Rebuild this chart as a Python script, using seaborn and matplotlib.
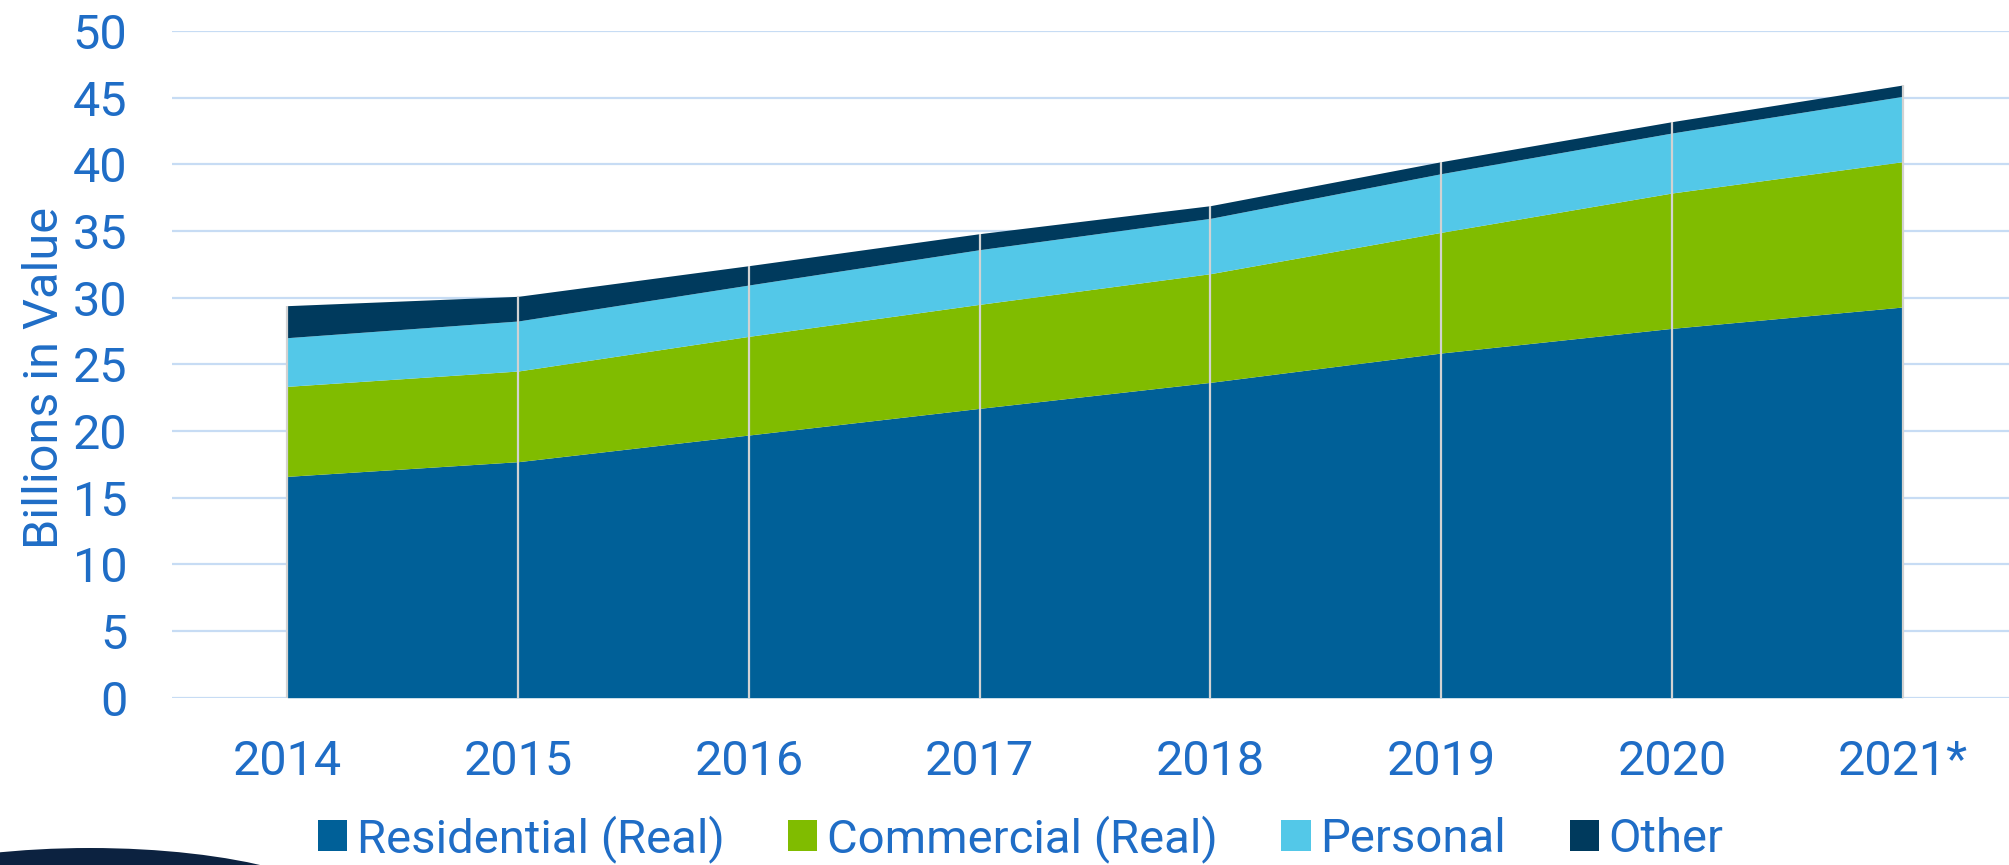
import matplotlib
matplotlib.use('Agg')
import matplotlib.pyplot as plt
from matplotlib.patches import Patch, Ellipse
import seaborn as sns
import numpy as np
import pandas as pd

##################################################################################
# data (billions)
##################################################################################
years = ['2014', '2015', '2016', '2017', '2018', '2019', '2020', '2021*']
residential = [16.6, 17.7, 19.7, 21.7, 23.65, 25.85, 27.7, 29.3]
commercial = [6.75, 6.8, 7.4, 7.8, 8.15, 9.05, 10.15, 10.9]
personal = [3.65, 3.75, 3.85, 4.1, 4.15, 4.4, 4.5, 4.9]
other = [2.4, 1.85, 1.45, 1.2, 0.95, 0.9, 0.85, 0.85]

series_names = ['Residential (Real)', 'Commercial (Real)', 'Personal', 'Other']
series_colors = ['#006098', '#80BC00', '#53C8E8', '#003A5D']

y_ticks = [0, 5, 10, 15, 20, 25, 30, 35, 40, 45, 50]
y_label = 'Billions in Value'

TEXT_CLR = '#1F6DC6'
GRID_CLR = '#C7DCF4'

##################################################################################
# plot
##################################################################################
sns.set_theme(style='white')
plt.rcParams['font.family'] = ['Roboto', 'DejaVu Sans']

df = pd.DataFrame({'year': years,
                   series_names[0]: residential,
                   series_names[1]: commercial,
                   series_names[2]: personal,
                   series_names[3]: other})
xs = np.arange(len(df))
palette = sns.color_palette(series_colors)

fig = plt.figure(figsize=(20.09, 8.65), dpi=100)
ax = fig.add_axes([0.0856, 0.1934, 0.9144, 0.7708])

ax.stackplot(xs, *[df[c].values for c in series_names], colors=palette,
             labels=series_names, linewidth=0, zorder=2)

# separator lines at each category
totals = df[series_names].sum(axis=1).values
ax.vlines(xs, 0, totals, colors='#D2D2D2', linewidth=1.6, zorder=3)

ax.set_xlim(-0.5, 7.46)
ax.set_ylim(0, 50)
ax.set_yticks(y_ticks)
ax.set_xticks(xs)
ax.set_xticklabels(df['year'])
ax.yaxis.grid(True, color=GRID_CLR, linewidth=1.6, zorder=0)
ax.xaxis.grid(False)
ax.set_axisbelow(True)
for s in ax.spines.values():
    s.set_visible(False)

ax.tick_params(axis='y', length=0, pad=32, labelsize=35, labelcolor=TEXT_CLR)
ax.tick_params(axis='x', length=0, pad=30, labelsize=35, labelcolor=TEXT_CLR)

fig.text(0.0225, 0.563, y_label, rotation=90, ha='center', va='center',
         fontsize=35, color=TEXT_CLR)

handles = [Patch(facecolor=c, edgecolor='none') for c in series_colors]
leg = fig.legend(handles, series_names, loc='center', ncol=4,
                 bbox_to_anchor=(0.508, 0.030), frameon=False, fontsize=34,
                 handlelength=0.62, handleheight=0.62, handletextpad=0.2,
                 columnspacing=1.35, borderaxespad=0)
for t in leg.get_texts():
    t.set_color(TEXT_CLR)

# decorative navy arc at the bottom-left corner
fig.patches.append(Ellipse((0.0448, -0.0636), 0.2628, 0.1665,
                           transform=fig.transFigure, facecolor='#0C2240',
                           edgecolor='none', zorder=0))

plt.savefig('out.png', dpi=100)
